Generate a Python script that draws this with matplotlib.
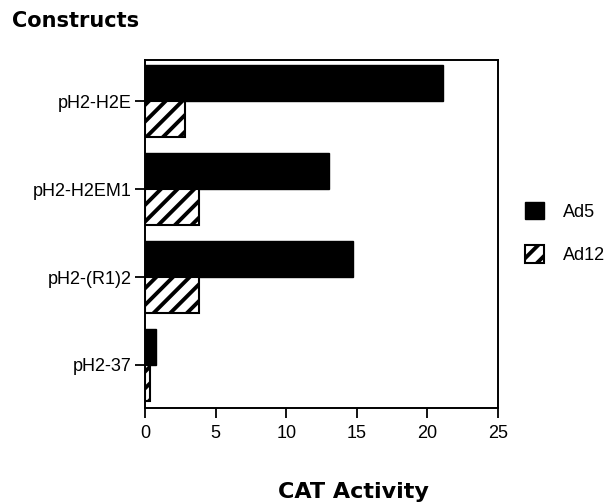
import numpy as np
import matplotlib.pyplot as plt
from matplotlib.patches import Patch

constructs = ["pH2-H2E", "pH2-H2EM1", "pH2-(R1)2", "pH2-37"]
ad5 = [21.1, 13.0, 14.7, 0.75]
ad12 = [2.8, 3.8, 3.8, 0.35]
series_names = ["Ad5", "Ad12"]
xticks = [0, 5, 10, 15, 20, 25]

plt.rcParams['font.family'] = ['Liberation Sans', 'DejaVu Sans']
plt.rcParams['hatch.linewidth'] = 2.8

fig = plt.figure(figsize=(6.10, 5.03), dpi=100)
ax = fig.add_axes([0.2377, 0.189, 0.5787, 0.6917])

y = np.arange(len(constructs))
bar_h = 0.41
# Ad5 sits just above the tick, Ad12 just below it (y axis is inverted)
ax.barh(y, ad5, height=-bar_h, align='edge', color='black', edgecolor='black', linewidth=1)
ax.barh(y, ad12, height=bar_h, align='edge', color='white', edgecolor='black', hatch='//', linewidth=1.5)

ax.set_xlim(0, 25)
ax.set_ylim(3.49, -0.47)
ax.set_xticks(xticks)
ax.set_yticks(y)
ax.set_yticklabels(constructs)
ax.tick_params(axis='both', direction='out', length=7.5, width=1.3, labelsize=13)
ax.tick_params(axis='y', pad=2)
ax.tick_params(axis='x', pad=5)
for s in ax.spines.values():
    s.set_linewidth(1.4)

fig.text(0.019, 0.958, "Constructs", fontsize=15, fontweight='bold', ha='left', va='center',
         family=['DejaVu Sans'])
fig.text(0.580, 0.022, "CAT Activity", fontsize=16, fontweight='bold', ha='center', va='center',
         family=['DejaVu Sans'])

handles = [Patch(facecolor='black', edgecolor='black', label=series_names[0]),
           Patch(facecolor='white', edgecolor='black', hatch='//', label=series_names[1], linewidth=1.5)]
fig.legend(handles=handles, loc='center left', bbox_to_anchor=(0.861, 0.537), frameon=False,
           fontsize=13, handlelength=1.05, handleheight=1.1, labelspacing=1.37, handletextpad=1.05,
           borderaxespad=0, borderpad=0)

fig.savefig("out.png", dpi=100)
